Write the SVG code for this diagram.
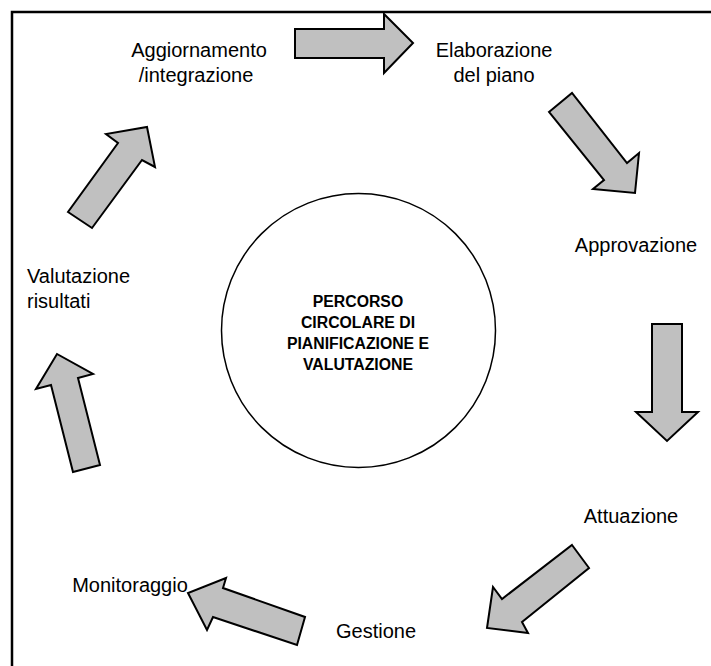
<svg xmlns="http://www.w3.org/2000/svg" width="711" height="666" viewBox="0 0 711 666">
<style>
.arr{fill:#c0c0c0;stroke:#000;stroke-width:2;stroke-linejoin:miter}
.lbl{font-family:"Liberation Sans",Arial,sans-serif;font-size:20px;fill:#000}
.ctr{font-family:"Liberation Sans",Arial,sans-serif;font-size:15.8px;font-weight:bold;fill:#000;text-anchor:middle}
</style>
<rect x="0" y="0" width="711" height="666" fill="#fff"/>
<rect x="12" y="12" width="720" height="680" fill="none" stroke="#000" stroke-width="2.5"/>
<g id="connectors">
<polygon class="arr" points="295,29 384,29 384,14 413,43 384,73 384,58 295,58"/>
<polygon class="arr" points="549,112 572,93 627,163 639,153 635,193 593,189 604,180"/>
<polygon class="arr" points="652,324 682,324 682,412 698,412 667,441 636,412 652,412"/>
<polygon class="arr" points="572,545 589,568 522,622 528,633 487,628 493,587 502,599"/>
<polygon class="arr" points="305,617 297,645 213,617 207,630 188,593 226,578 223,588"/>
<polygon class="arr" points="100,465 73,472 51,385 36,389 57,354 93,374 78,378"/>
<polygon class="arr" points="68,212 92,228 142,160 155,167 147,127 106,134 118,143"/>
</g>
<g id="center">
<circle cx="358.5" cy="330.5" r="137" fill="#fff" stroke="#000" stroke-width="1.5"/>
<text class="ctr" x="358" y="307">PERCORSO</text>
<text class="ctr" x="358" y="328">CIRCOLARE DI</text>
<text class="ctr" x="358" y="349">PIANIFICAZIONE E</text>
<text class="ctr" x="358" y="370">VALUTAZIONE</text>
</g>
<g id="aggiornamento"><text class="lbl" x="199" y="57" text-anchor="middle">Aggiornamento</text><text class="lbl" x="196" y="82" text-anchor="middle">/integrazione</text></g>
<g id="elaborazione"><text class="lbl" x="494" y="57" text-anchor="middle">Elaborazione</text><text class="lbl" x="494" y="82" text-anchor="middle">del piano</text></g>
<g id="approvazione"><text class="lbl" x="636" y="252" text-anchor="middle">Approvazione</text></g>
<g id="attuazione"><text class="lbl" x="631" y="523" text-anchor="middle">Attuazione</text></g>
<g id="gestione"><text class="lbl" x="376" y="638" text-anchor="middle">Gestione</text></g>
<g id="monitoraggio"><text class="lbl" x="130" y="592" text-anchor="middle">Monitoraggio</text></g>
<g id="valutazione"><text class="lbl" x="27" y="283">Valutazione</text><text class="lbl" x="27" y="308">risultati</text></g>
</svg>
